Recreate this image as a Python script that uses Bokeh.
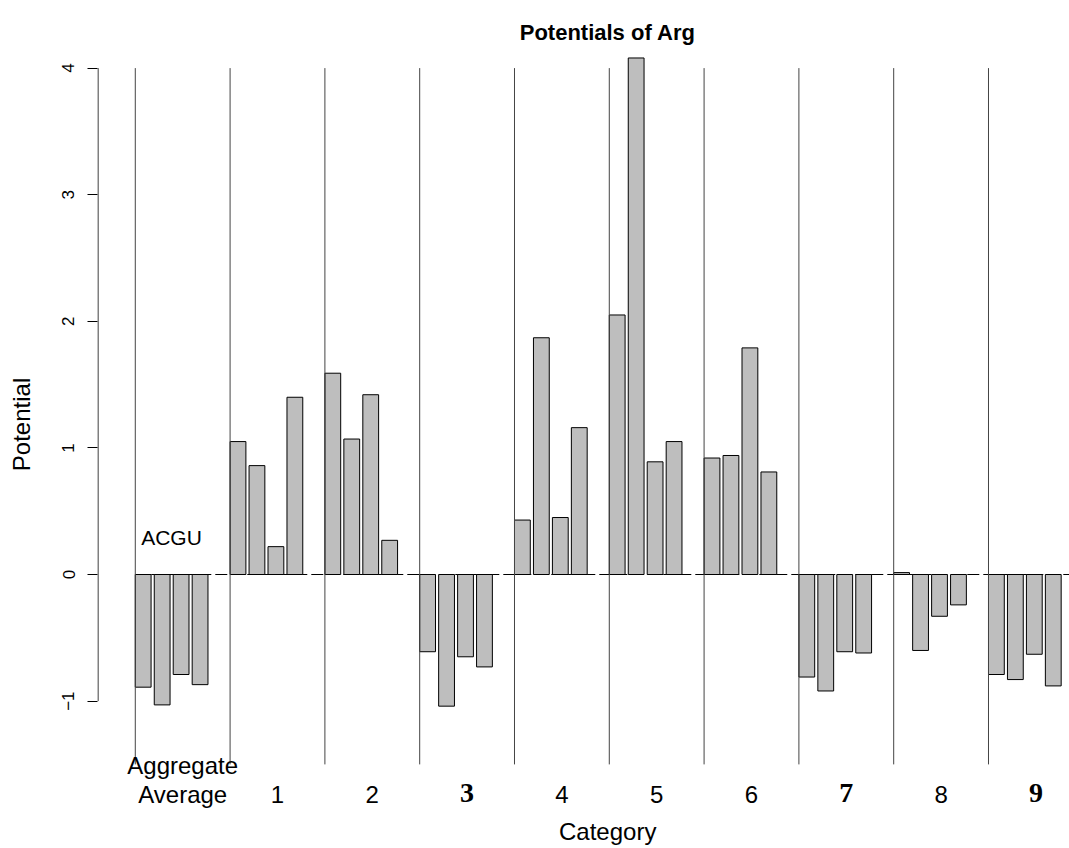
from bokeh.plotting import figure
from bokeh.models import Range1d, FixedTicker, ColumnDataSource
from bokeh.embed import file_html
from bokeh.resources import INLINE
from bokeh.core.properties import value

# ---------------- data ----------------
group_labels = ["Aggregate\nAverage", "1", "2", "3", "4", "5", "6", "7", "8", "9"]
bold_groups = ["3", "7", "9"]
nucleotides = ["A", "C", "G", "U"]
agg = [-0.89, -1.03, -0.79, -0.87]
g1 = [1.05, 0.86, 0.22, 1.40]
g2 = [1.59, 1.07, 1.42, 0.27]
g3 = [-0.61, -1.04, -0.65, -0.73]
g4 = [0.43, 1.87, 0.45, 1.16]
g5 = [2.05, 4.08, 0.89, 1.05]
g6 = [0.92, 0.94, 1.79, 0.81]
g7 = [-0.81, -0.92, -0.61, -0.62]
g8 = [0.015, -0.60, -0.33, -0.24]
g9 = [-0.79, -0.83, -0.63, -0.88]
series = [agg, g1, g2, g3, g4, g5, g6, g7, g8, g9]
y_ticks = [-1, 0, 1, 2, 3, 4]

# ---------------- layout (R barplot geometry: width 1, space 0.2) ----------------
SLOTS = 5                      # 4 bars + 1 empty spacer per group
n_slots = SLOTS * len(series)
x_lo = 0.2 - 0.04 * (n_slots * 1.2 - 0.2)
x_hi = n_slots * 1.2 + 0.04 * (n_slots * 1.2 - 0.2)
x_mid = (x_lo + x_hi) / 2
W, H = 1069, 848
LEFT = 97
PXU_X = 15.8
PXU_Y = 126.6
Y_TOP = 574 / PXU_Y
Y_BOT = Y_TOP - H / PXU_Y

def ypix(sy):
    return Y_TOP - sy / PXU_Y

def xpix(sx):
    return x_lo + (sx - LEFT) / PXU_X

xs, tops = [], []
for g, vals in enumerate(series):
    for j, v in enumerate(vals):
        k = g * SLOTS + j
        xs.append(0.2 + 1.2 * k + 0.5)
        tops.append(v)
src = ColumnDataSource(dict(x=xs, top=tops, bottom=[0] * len(xs)))

group_left = [0.2 + 1.2 * SLOTS * g for g in range(len(series))]
group_center = [gl + 1.2 * SLOTS / 2 for gl in group_left]

p = figure(width=W, height=H, output_backend="svg", toolbar_location=None,
           x_range=Range1d(x_lo, x_lo + (W - LEFT) / PXU_X),
           y_range=Range1d(Y_BOT, Y_TOP),
           min_border_left=LEFT, min_border_right=0, min_border_top=0, min_border_bottom=0)
p.outline_line_color = None
p.xgrid.visible = False
p.ygrid.visible = False
p.xaxis.visible = False
p.background_fill_color = "white"
p.border_fill_color = "white"

yax = p.yaxis[0]
yax.ticker = FixedTicker(ticks=y_ticks)
yax.axis_line_color = None
yax.major_tick_out = 10
yax.major_tick_in = 0
yax.minor_tick_line_color = None
yax.major_tick_line_color = "black"
yax.major_label_orientation = "vertical"
yax.major_label_standoff = 13
yax.major_label_text_font = "Liberation Sans"
yax.major_label_text_font_size = "17px"
yax.major_label_text_color = "black"
yax.axis_label = "Potential"
yax.axis_label_text_font = "Liberation Sans"
yax.axis_label_text_font_style = "normal"
yax.axis_label_text_font_size = "24px"
yax.axis_label_text_color = "black"
yax.axis_label_standoff = 25

# y axis line from -1 to 4
p.segment(x0=[xpix(97.5)], y0=[min(y_ticks)], x1=[xpix(97.5)], y1=[max(y_ticks)],
          line_color="black", line_width=1)

# dashed zero line
p.segment(x0=[0.2], y0=[0], x1=[x_hi], y1=[0], line_color="black",
          line_width=1, line_dash="12 4")

# bars
p.vbar(x="x", top="top", bottom="bottom", width=1.0, source=src,
       fill_color="#bebebe", line_color="black", line_width=1)

# group separators
p.segment(x0=group_left, y0=[max(y_ticks)] * len(group_left), x1=group_left,
          y1=[-1.5] * len(group_left), line_color="#444444", line_width=1)

SANS = value("Liberation Sans")

# group labels
for gc, lab in zip(group_center, group_labels):
    if "\n" in lab:
        l1, l2 = lab.split("\n")
        p.text(x=[gc], y=[ypix(765)], text=[l1], text_align="center", text_baseline="middle",
               text_font=SANS, text_font_size="24px", text_color="black")
        p.text(x=[gc], y=[ypix(794)], text=[l2], text_align="center", text_baseline="middle",
               text_font=SANS, text_font_size="24px", text_color="black")
    elif lab in bold_groups:
        p.text(x=[gc], y=[ypix(792)], text=[lab], text_align="center", text_baseline="middle",
               text_font=value("Liberation Serif"), text_font_style="bold",
               text_font_size="28px", text_color="black")
    else:
        p.text(x=[gc], y=[ypix(794)], text=[lab], text_align="center", text_baseline="middle",
               text_font=SANS, text_font_size="24px", text_color="black")

# ACGU
p.text(x=[xpix(171)], y=[ypix(537)], text=["".join(nucleotides)], text_align="center",
       text_baseline="middle", text_font=SANS, text_font_size="21px", text_color="black")

# title
p.text(x=[x_mid], y=[ypix(32)], text=["Potentials of Arg"], text_align="center",
       text_baseline="middle", text_font=SANS, text_font_style="bold",
       text_font_size="22px", text_color="black")

# x axis label
p.text(x=[x_mid], y=[ypix(831)], text=["Category"], text_align="center",
       text_baseline="middle", text_font=SANS, text_font_size="24px", text_color="black")

open("out.html", "w").write(file_html(p, INLINE))
